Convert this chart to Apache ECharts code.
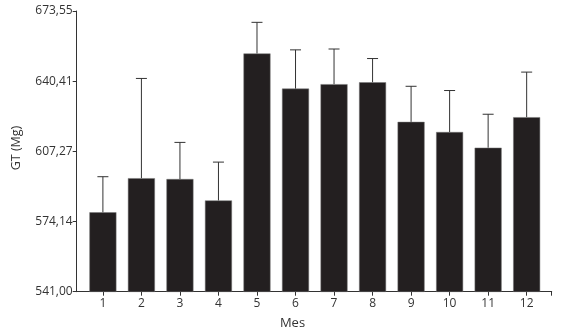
<!DOCTYPE html>
<html>
<head>
<meta charset="utf-8">
<script src="https://cdn.jsdelivr.net/npm/echarts@6/dist/echarts.min.js"></script>
<style>
  html, body { margin: 0; padding: 0; background: #fff; }
  #chart { width: 564px; height: 331px; }
</style>
</head>
<body>
<div id="chart"></div>
<script>
// Monthly means and upper error bar ends
const months = [1, 2, 3, 4, 5, 6, 7, 8, 9, 10, 11, 12];
const means = [578.5, 594.6, 594.2, 584.1, 653.5, 636.9, 639.0, 639.9, 621.2, 616.4, 609.0, 623.4];
const upper = [595.3, 641.7, 611.5, 602.2, 668.2, 655.2, 655.6, 651.1, 638.0, 636.0, 624.8, 644.7];
const yTicks = [541, 574.1375, 607.275, 640.4125, 673.55];
const yTickLabels = ["541,00", "574,14", "607,27", "640,41", "673,55"];

const chart = echarts.init(document.getElementById("chart"));

const font = "'Open Sans', sans-serif";
const textColor = "#333";

const option = {
  animation: false,
  grid: { left: 76.7, right: 12.3, top: 11, bottom: 39.3 },
  xAxis: {
    type: "value",
    min: 0.32,
    max: 12.65,
    splitLine: { show: false },
    axisLine: { lineStyle: { color: "#333", width: 1 } },
    axisTick: { show: true, length: 4, lineStyle: { color: "#333" }, customValues: months.concat([12.65]) },
    axisLabel: {
      customValues: months,
      color: textColor, fontFamily: font, fontSize: 12, margin: 6,
      formatter: v => String(Math.round(v))
    }
  },
  yAxis: {
    type: "value",
    min: 541,
    max: 673.55,
    splitLine: { show: false },
    axisLine: { show: true, lineStyle: { color: "#333", width: 1 } },
    axisTick: { show: true, length: 4, lineStyle: { color: "#333" }, customValues: yTicks },
    axisLabel: {
      customValues: yTicks,
      color: textColor, fontFamily: font, fontSize: 12, margin: 4,
      formatter: v => {
        const i = yTicks.findIndex(t => Math.abs(t - v) < 0.01);
        return i >= 0 ? yTickLabels[i] : "";
      }
    }
  },
  graphic: [
    {
      type: "text", x: 16, y: 148, rotation: Math.PI / 2,
      style: { text: "GT (Mg)", fill: textColor, font: "12.5px " + font, align: "center", verticalAlign: "middle" }
    },
    {
      type: "text", x: 292.5, y: 323,
      style: { text: "Mes", fill: textColor, font: "13px " + font, align: "center", verticalAlign: "middle" }
    }
  ],
  series: [
    {
      type: "bar",
      data: months.map((m, i) => [m, means[i]]),
      barWidth: 27,
      itemStyle: { color: "#231f20", borderColor: "#777", borderWidth: 0.5 }
    },
    {
      type: "custom",
      data: months.map((m, i) => [m, means[i], upper[i]]),
      renderItem: (params, api) => {
        const base = api.coord([api.value(0), api.value(1)]);
        const top = api.coord([api.value(0), api.value(2)]);
        const half = 5.5;
        const style = { stroke: "#333", lineWidth: 1 };
        return {
          type: "group",
          children: [
            { type: "line", shape: { x1: base[0], y1: base[1], x2: top[0], y2: top[1] }, style },
            { type: "line", shape: { x1: top[0] - half, y1: top[1], x2: top[0] + half, y2: top[1] }, style }
          ]
        };
      },
      z: 3
    }
  ]
};

chart.setOption(option);
</script>
</body>
</html>
